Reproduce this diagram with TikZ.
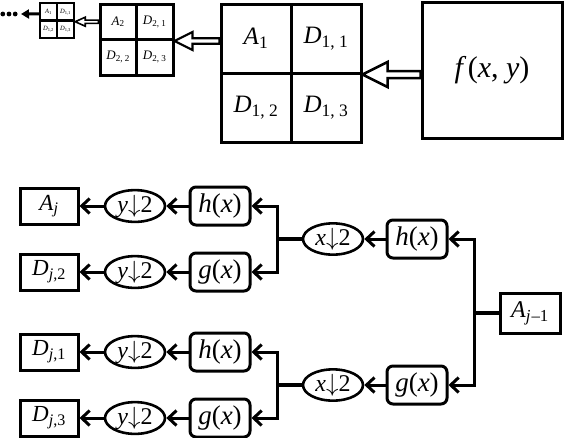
\documentclass[tikz,border=0pt]{standalone}
\usepackage{fontspec}
\setmainfont{Liberation Serif}
\usetikzlibrary{arrows.meta,positioning,calc,shapes.geometric}
\newcommand{\lbl}[2]{\textit{#1}\textsubscript{#2}}
% hollow block arrow: start, tip, head length, head half-width, shaft half-gap
\newcommand{\blockarrow}[6]{%
  \draw[line width=#6,line join=miter,fill=white] (#2) -- ($(#2)+(#3,#4)$) -- ($(#2)+(#3,#5)$)
    -- ($(#1)+(0,#5)$) -- ($(#1)+(0,-#5)$) -- ($(#2)+(#3,-#5)$) -- ($(#2)+(#3,-#4)$) -- cycle;}
\tikzset{
  imgbox/.style={draw,line width=3pt,minimum width=140pt,minimum height=136pt,inner sep=0pt,
                 font=\fontsize{30}{32}\selectfont},
  cell/.style={draw,line width=3pt,inner sep=0pt,minimum width=70pt,minimum height=69pt,
               font=\fontsize{25}{27}\selectfont},
  midcell/.style={cell,minimum width=36.5pt,minimum height=35.5pt,font=\fontsize{13}{14}\selectfont},
  tinycell/.style={cell,line width=2.4pt,minimum width=17pt,minimum height=17.5pt,
                   font=\fontsize{6.5}{7}\selectfont},
  outbox/.style={draw,line width=3pt,minimum width=58pt,minimum height=36pt,inner sep=0pt,
                 font=\fontsize{23}{25}\selectfont},
  down/.style={ellipse,draw,line width=2.6pt,minimum width=60pt,minimum height=30pt,inner sep=0pt,
               font=\fontsize{24}{26}\selectfont},
  filt/.style={draw,rounded corners=6pt,line width=3pt,minimum width=60pt,minimum height=38pt,
               inner sep=0pt,font=\fontsize{27}{29}\selectfont},
  flow/.style={-{Straight Barb[length=8pt,width=15pt]},line width=3pt},
  dotflow/.style={-{Triangle[length=8pt,width=9pt]},line width=3pt},
  wire/.style={line width=3.2pt},
}
\begin{document}
\begin{tikzpicture}[x=1pt,y=-1pt]
  \useasboundingbox (0,0) rectangle (564,437);
  % image and the three levels of the decomposition
  \node[imgbox] (img) at (492,70) {\textit{f\,}(\textit{x}, \textit{y})};

  \node[cell] (a1)  at (256,38.5)  {\lbl{A}{1}};
  \node[cell] (d11) at (326,38.5)  {\lbl{D}{1, 1}};
  \node[cell] (d12) at (256,107.5) {\lbl{D}{1, 2}};
  \node[cell] (d13) at (326,107.5) {\lbl{D}{1, 3}};

  \node[midcell] (a2)  at (118.25,21.75) {\lbl{A}{2}};
  \node[midcell] (d21) at (154.75,21.75) {\lbl{D}{2, 1}};
  \node[midcell] (d22) at (118.25,57.25) {\lbl{D}{2, 2}};
  \node[midcell] (d23) at (154.75,57.25) {\lbl{D}{2, 3}};

  \node[tinycell] (s1)  at (48.5,11.75) {\lbl{A}{1}};
  \node[tinycell] (s11) at (65.5,11.75) {\lbl{D}{1,1}};
  \node[tinycell] (s12) at (48.5,29.25) {\lbl{D}{1,2}};
  \node[tinycell] (s13) at (65.5,29.25) {\lbl{D}{1,3}};

  \blockarrow{img.west |- d11.south east}{d11.south east}{25}{12.5}{3.5}{2.5pt}
  \blockarrow{a1.west |- d21.south east}{d21.south east}{18}{9}{2.8}{2.2pt}
  \blockarrow{a2.west |- s11.south east}{s11.south east}{10}{4.5}{1.6}{1.6pt}

  \coordinate (dots) at (21,14);
  \draw[dotflow] ($(s1.west)+(0,2.2)$) -- (dots);
  \foreach \x in {2.8,9,15.2}{
    \fill (\x,14) circle (2.4);
  }

  % one step of the separable filter bank
  \node[outbox] (aj)  at (49,206) {\lbl{A}{\textit{j}}};
  \node[outbox] (dj2) at (49,272) {\lbl{D}{\textit{j},2}};
  \node[outbox] (dj1) at (49,352) {\lbl{D}{\textit{j},1}};
  \node[outbox] (dj3) at (49,418) {\lbl{D}{\textit{j},3}};

  \node[down] (ya) at (135,206) {\textit{y}$\downarrow$2};
  \node[down] (yb) at (135,272) {\textit{y}$\downarrow$2};
  \node[down] (yc) at (135,352) {\textit{y}$\downarrow$2};
  \node[down] (yd) at (135,418) {\textit{y}$\downarrow$2};

  \node[filt] (ha) at (220,206) {\textit{h}(\textit{x})};
  \node[filt] (ga) at (220,272) {\textit{g}(\textit{x})};
  \node[filt] (hb) at (220,352) {\textit{h}(\textit{x})};
  \node[filt] (gb) at (220,418) {\textit{g}(\textit{x})};

  \node[down] (xa) at (333,239) {\textit{x}$\downarrow$2};
  \node[down] (xb) at (333,385) {\textit{x}$\downarrow$2};
  \node[filt] (hx) at (417,239) {\textit{h}(\textit{x})};
  \node[filt] (gx) at (417,385) {\textit{g}(\textit{x})};

  \node[outbox,minimum width=60pt,minimum height=40pt,font=\fontsize{24}{26}\selectfont]
    (ajm) at (530,313) {\lbl{A}{\textit{j}\kern1pt–1}};

  \coordinate (sp1) at (277,239);
  \coordinate (sp2) at (474,313);
  \coordinate (sp3) at (277,385);

  \draw[wire] (ajm) -- (sp2);
  \draw[flow] (sp2) |- (hx);
  \draw[flow] (sp2) |- (gx);
  \draw[flow] (hx) -- (xa);
  \draw[flow] (gx) -- (xb);
  \draw[wire] (xa) -- (sp1);
  \draw[wire] (xb) -- (sp3);
  \foreach \s/\h/\g in {sp1/ha/ga,sp3/hb/gb}{
    \draw[flow] (\s) |- (\h);
    \draw[flow] (\s) |- (\g);
  }
  \foreach \a/\b in {ha/ya,ga/yb,hb/yc,gb/yd,ya/aj,yb/dj2,yc/dj1,yd/dj3}{
    \draw[flow] (\a) -- (\b);
  }
\end{tikzpicture}
\end{document}
